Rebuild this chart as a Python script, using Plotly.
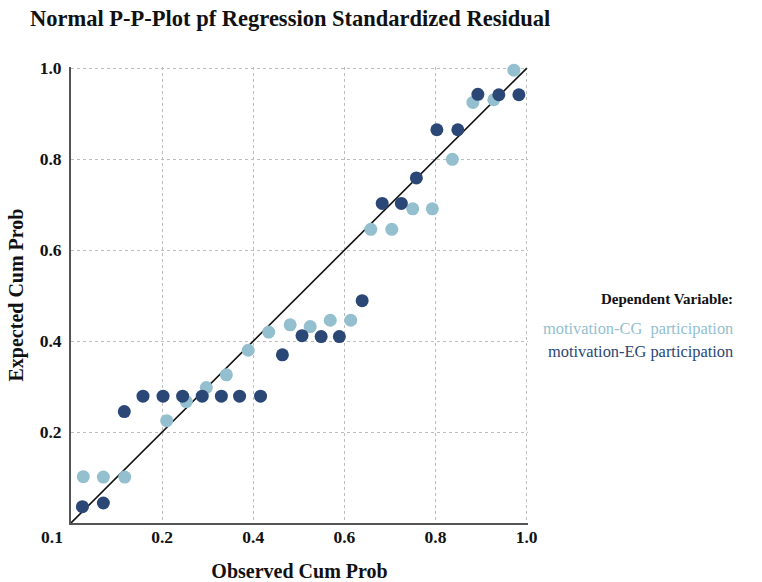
import plotly.graph_objects as go

# ---- data ----
cg_observed = [0.027, 0.071, 0.118, 0.210, 0.253, 0.297, 0.341, 0.389, 0.434, 0.481, 0.525,
               0.569, 0.614, 0.658, 0.704, 0.750, 0.793, 0.837, 0.882, 0.928, 0.972]
cg_expected = [0.102, 0.101, 0.101, 0.225, 0.267, 0.298, 0.326, 0.380, 0.420, 0.436, 0.432,
               0.446, 0.446, 0.646, 0.646, 0.691, 0.691, 0.800, 0.925, 0.931, 0.996]

eg_observed = [0.025, 0.071, 0.117, 0.158, 0.202, 0.245, 0.288, 0.330, 0.370, 0.416, 0.464,
               0.507, 0.549, 0.589, 0.639, 0.683, 0.725, 0.758, 0.803, 0.849, 0.893, 0.939, 0.983]
eg_expected = [0.036, 0.044, 0.245, 0.279, 0.279, 0.279, 0.279, 0.279, 0.279, 0.279, 0.370,
               0.412, 0.410, 0.410, 0.489, 0.703, 0.703, 0.759, 0.865, 0.865, 0.943, 0.942, 0.942]

series_names = ["motivation-CG\u00a0 participation", "motivation-EG participation"]
series_colors = ["#93BFCF", "#2A4776"]

ref_line = [0.0, 1.0]
tick_vals = [0.0, 0.2, 0.4, 0.6, 0.8, 1.0]
x_tick_text = ["", "0.2", "0.4", "0.6", "0.8", "1.0"]
y_tick_text = ["", "0.2", "0.4", "0.6", "0.8", "1.0"]
corner_label = "0.1"

FONT = "Liberation Serif"

fig = go.Figure()

fig.add_trace(go.Scatter(x=ref_line, y=ref_line, mode="lines",
                         line=dict(color="#111111", width=1.6),
                         hoverinfo="skip", showlegend=False, cliponaxis=False))

for xs, ys, name, col in [(cg_observed, cg_expected, series_names[0], series_colors[0]),
                          (eg_observed, eg_expected, series_names[1], series_colors[1])]:
    fig.add_trace(go.Scatter(x=xs, y=ys, mode="markers", name=name,
                             marker=dict(color=col, size=13, line=dict(width=0)),
                             showlegend=False, cliponaxis=False))

axis_common = dict(
    range=[0, 1.003], tickvals=tick_vals, showgrid=True,
    gridcolor="#bdbdbd", griddash="dot", gridwidth=1,
    zeroline=False, showline=True, linecolor="#555555", linewidth=2,
    tickfont=dict(family=FONT, size=17.5, color="#111111", weight="bold"),
    fixedrange=True, automargin=False,
)

fig.update_layout(
    width=762, height=582,
    margin=dict(l=71, r=234, t=67, b=59, autoexpand=False),
    paper_bgcolor="white", plot_bgcolor="white",
    title=dict(text="<b>Normal P-P-Plot pf Regression Standardized Residual</b>",
               font=dict(family=FONT, size=22.5, color="#111111"),
               x=30 / 762, xanchor="left", xref="container",
               y=1 - 18 / 582, yanchor="middle", yref="container"),
    xaxis=dict(axis_common, ticktext=x_tick_text,
               title=dict(text="<b>Observed Cum Prob</b>",
                          font=dict(family=FONT, size=20, color="#111111"),
                          standoff=34),
               ticklabelstandoff=-3),
    yaxis=dict(axis_common, ticktext=y_tick_text,
               title=dict(text="<b>Expected Cum Prob</b>",
                          font=dict(family=FONT, size=20, color="#111111"),
                          standoff=11),
               ticklabelstandoff=4),
    showlegend=False,
)

annotations = [
    dict(text="<b>" + corner_label + "</b>", xref="paper", yref="paper", x=0, y=0,
         xanchor="right", yanchor="top", xshift=-6, yshift=-2, showarrow=False,
         font=dict(family=FONT, size=17.5, color="#111111")),
    dict(text="<b>Dependent Variable:</b>", xref="paper", yref="paper", x=1, y=0.5,
         xanchor="right", yanchor="middle", xshift=207, yshift=-4, showarrow=False,
         font=dict(family=FONT, size=15, color="#111111")),
]
for i, (name, col) in enumerate(zip(series_names, series_colors)):
    annotations.append(dict(text=name, xref="paper", yref="paper", x=1, y=0.5,
                            xanchor="right", yanchor="middle", xshift=207,
                            yshift=-33 - 23 * i, showarrow=False,
                            font=dict(family=FONT, size=16.4, color=col)))
fig.update_layout(annotations=annotations)

fig.write_html("out.html")
